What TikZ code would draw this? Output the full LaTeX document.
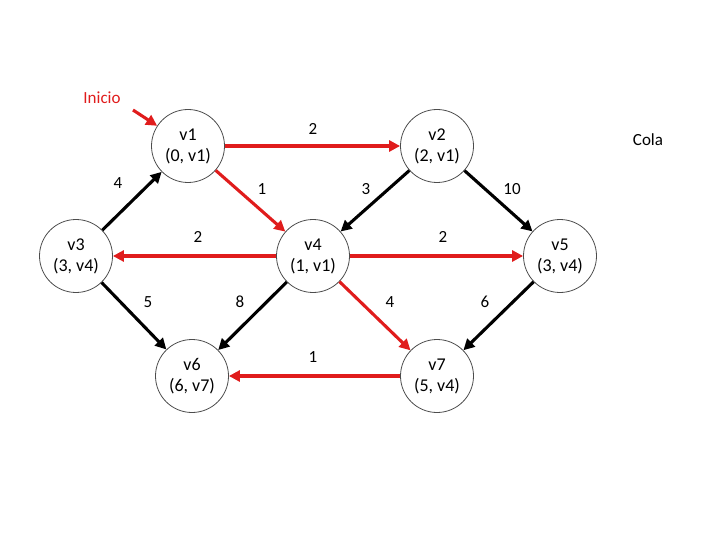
\documentclass[tikz,border=0pt]{standalone}
\usepackage{fontspec}
\setmainfont{Carlito}
\usetikzlibrary{arrows.meta}
\definecolor{myred}{RGB}{224,28,28}
\begin{document}
\begin{tikzpicture}[x=1pt,y=-1pt,
  vert/.style={circle,draw=black!70,line width=0.8pt,minimum size=73pt,inner sep=0pt,align=center,font=\fontsize{18}{21}\selectfont},
  redge/.style={draw=myred,line width=3.1pt,-{Triangle[length=11pt,width=11pt]}},
  bedge/.style={draw=black,line width=3.1pt,-{Triangle[length=11pt,width=11pt]}},
  lab/.style={font=\fontsize{17}{20}\selectfont,inner sep=0pt}]
\useasboundingbox (0,0) rectangle (720,540);
\node[vert] (v1) at (188,146) {v1\\(0, v1)};
\node[vert] (v2) at (437,146) {v2\\(2, v1)};
\node[vert] (v3) at (76,256) {v3\\(3, v4)};
\node[vert] (v4) at (313,256) {v4\\(1, v1)};
\node[vert] (v5) at (560,256) {v5\\(3, v4)};
\node[vert] (v6) at (192,376) {v6\\(6, v7)};
\node[vert] (v7) at (437,376) {v7\\(5, v4)};
\node[lab,text=myred] (inicio) at (102,98) {Inicio};
\node[lab] (cola) at (648,140) {Cola};
\coordinate (istart) at (133,110);
\draw[redge] (istart) -- (v1);
\draw[redge] (v1) -- (v2);
\draw[bedge] (v3) -- (v1);
\draw[redge] (v1) -- (v4);
\draw[bedge] (v2) -- (v4);
\draw[bedge] (v2) -- (v5);
\draw[redge] (v4) -- (v3);
\draw[redge] (v4) -- (v5);
\draw[bedge] (v3) -- (v6);
\draw[bedge] (v4) -- (v6);
\draw[redge] (v4) -- (v7);
\draw[bedge] (v5) -- (v7);
\draw[redge] (v7) -- (v6);
\node[lab] (l12) at (313,129) {2};
\node[lab] (l31) at (118,183) {4};
\node[lab] (l14) at (262,189) {1};
\node[lab] (l24) at (366,189) {3};
\node[lab] (l25) at (512,189) {10};
\node[lab] (l43) at (198,237) {2};
\node[lab] (l45) at (443,237) {2};
\node[lab] (l36) at (148,302) {5};
\node[lab] (l46) at (240,302) {8};
\node[lab] (l47) at (390,302) {4};
\node[lab] (l57) at (485,302) {6};
\node[lab] (l76) at (313,357) {1};
\end{tikzpicture}
\end{document}
